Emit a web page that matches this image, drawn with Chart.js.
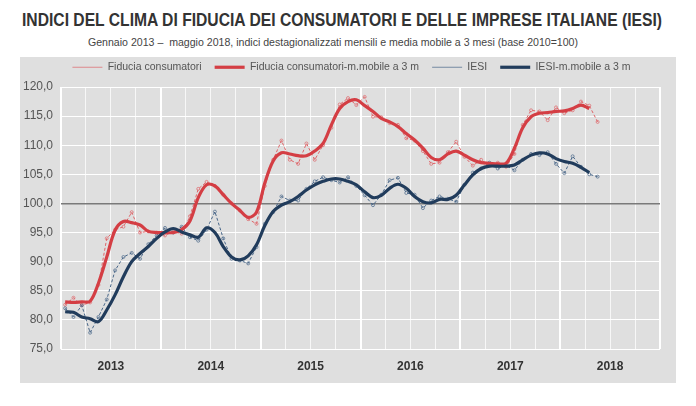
<!DOCTYPE html>
<html><head><meta charset="utf-8">
<script src="https://cdn.jsdelivr.net/npm/chart.js@4/dist/chart.umd.min.js"></script>
<style>
html,body{margin:0;padding:0;background:#fff;width:696px;height:406px;overflow:hidden;position:relative;}
.txt{position:absolute;white-space:nowrap;transform-origin:0 0;color:#333;font-family:"Liberation Sans",Arial,sans-serif;}
#title{left:22px;top:10px;font-size:18px;font-weight:bold;}
#sub{left:88px;top:36px;font-size:11.5px;color:#444;}
#panel{position:absolute;left:20px;top:57px;width:656px;height:326px;background:#dfdfdf;}
#c{position:absolute;left:0;top:0;}
</style></head>
<body>
<span id="title" class="txt">INDICI DEL CLIMA DI FIDUCIA DEI CONSUMATORI E DELLE IMPRESE ITALIANE (IESI)</span>
<span id="sub" class="txt">Gennaio 2013 –&nbsp; maggio 2018, indici destagionalizzati mensili e media mobile a 3 mesi (base 2010=100)</span>
<div id="panel"><canvas id="c" width="656" height="326"></canvas></div>
<script>
// ---- data (monthly, Jan 2013 – May 2018) ----
const years = ['2013','2014','2015','2016','2017','2018'];
const yTicks = [75,80,85,90,95,100,105,110,115,120];
const fiduciaConsumatori = [
  82.6,83.8,82.5,83.0,86.0,94.0,95.5,96.0,98.5,95.0,95.2,95.0,
  94.5,95.2,94.8,97.8,102.5,103.7,103.0,101.5,100.0,98.8,97.3,96.5,
  103.0,107.5,110.8,107.5,106.8,110.3,107.5,110.0,113.0,117.0,118.1,116.9,
  118.3,114.9,114.8,113.8,113.5,111.2,110.8,109.0,106.8,107.0,108.8,110.6,
  108.0,106.5,107.5,106.5,107.0,106.3,108.5,113.5,116.0,115.8,114.3,116.5,
  115.5,116.0,117.5,116.8,114.0];
const fiduciaConsumatoriMM3 = [
  83.1,83.0,83.1,83.2,86.3,90.8,95.4,96.9,96.7,96.3,95.2,95.0,
  95.0,95.0,95.5,97.0,101.0,103.2,103.0,101.5,100.0,98.8,97.6,98.5,
  103.5,107.3,108.7,108.5,108.2,108.2,109.0,110.3,113.5,116.3,117.5,117.8,
  116.8,115.8,114.6,114.0,113.2,112.0,110.9,109.5,107.9,107.5,108.5,109.0,
  108.3,107.5,107.0,106.9,106.8,106.9,109.5,113.0,114.9,115.5,115.6,115.8,
  115.9,116.3,116.9,116.3,null];
const iesi = [
  82.0,80.5,82.5,77.8,80.5,83.5,88.5,90.8,91.5,90.5,93.0,94.5,
  95.8,95.0,96.0,94.2,93.6,95.5,98.6,94.0,90.5,90.2,89.7,92.5,
  96.5,98.5,101.2,100.5,100.5,102.5,103.8,104.5,104.0,103.6,104.5,103.0,
  101.4,99.7,101.5,104.0,104.4,101.8,101.5,99.2,100.5,101.2,100.8,100.3,
  103.2,105.3,106.0,107.0,106.0,106.5,105.7,107.5,108.5,108.3,108.8,106.8,
  105.2,108.1,106.3,105.0,104.6];
const iesiMM3 = [
  81.4,81.3,80.5,80.2,79.7,81.7,84.3,87.4,90.0,91.4,92.6,94.0,
  95.1,95.7,95.1,94.6,94.2,95.8,95.0,92.6,90.8,90.3,91.0,92.9,
  96.2,98.6,99.7,100.3,101.2,102.3,103.2,103.8,104.2,104.2,103.8,103.2,
  102.0,101.0,101.4,102.6,103.3,102.6,101.2,100.3,100.1,100.7,100.7,101.4,
  103.2,104.9,106.0,106.4,106.4,106.4,106.6,107.5,108.3,108.7,108.5,107.7,
  107.2,106.9,106.2,105.3,null];

// fit HTML titles to reference widths
function fitW(id, w){ const el=document.getElementById(id); const r=el.getBoundingClientRect().width; el.style.transform='scaleX('+(w/r)+')'; }
fitW('title',640); fitW('sub',490);

const pts = arr => arr.map((v,i)=>({x:i+0.5,y:v}));
const FONT = '"Liberation Sans",Arial,sans-serif';
const RED='rgb(212,62,68)', RED2='rgb(222,100,104)', BLUE='rgb(33,60,92)', BLUE2='rgb(72,102,136)';

const legendFix = {
  id:'legendFix',
  beforeLayout(chart){
    const lg = chart.legend;
    if (lg && !lg._patched){ const f=lg.fit; lg.fit=function(){ f.call(this); this.height=38; }; lg._patched=true; }
  },
  afterLayout(chart){
    const lg = chart.legend;
    if (lg){ lg.left = 23; lg.right = 640; lg.width = lg.right - lg.left; }
  }
};

new Chart(document.getElementById('c'), {
  type:'line',
  data:{ datasets:[
    {label:'Fiducia consumatori', data:pts(fiduciaConsumatori), borderColor:RED2, borderWidth:1, borderDash:[3,2],
     pointRadius:1.5, pointBorderWidth:0.7, pointBorderColor:RED2, pointBackgroundColor:'rgba(0,0,0,0)', tension:0, order:4},
    {label:'Fiducia consumatori-m.mobile a 3 m', data:pts(fiduciaConsumatoriMM3), borderColor:RED, borderWidth:3.2,
     pointRadius:0, tension:0.35, order:2},
    {label:'IESI', data:pts(iesi), borderColor:BLUE2, borderWidth:1, borderDash:[3,2],
     pointRadius:1.5, pointBorderWidth:0.7, pointBorderColor:BLUE2, pointBackgroundColor:'rgba(0,0,0,0)', tension:0, order:3},
    {label:'IESI-m.mobile a 3 m', data:pts(iesiMM3), borderColor:BLUE, borderWidth:3.2,
     pointRadius:0, tension:0.35, order:1}
  ]},
  options:{
    responsive:false, animation:false, devicePixelRatio:1,
    layout:{padding:{left:0,right:16,top:-8,bottom:0}},
    plugins:{
      tooltip:{enabled:false},
      legend:{
        position:'top',
        labels:{
          usePointStyle:true, pointStyle:'line', pointStyleWidth:30, padding:13,
          color:'#555', font:{family:FONT,size:10.5},
          sort:(a,b)=>a.datasetIndex-b.datasetIndex
        }
      }
    },
    scales:{
      x:{
        type:'linear', min:0, max:72,
        afterFit(s){ s.height=34; },
        border:{display:false},
        grid:{drawTicks:false,
          color:c=> (c.tick && c.tick.value%12===0) ? '#ffffff' : 'rgba(255,255,255,0.75)',
          lineWidth:c=> (c.tick && c.tick.value%12===0) ? 2 : 1},
        ticks:{stepSize:3, autoSkip:false, maxRotation:0, padding:10,
          color:'#333', font:{family:FONT,size:12,weight:'bold'},
          callback:v=> ((v-6)%12===0 ? years[(v-6)/12] : '')}
      },
      y:{
        min:75, max:120,
        afterFit(s){ s.width=41; },
        afterBuildTicks(s){ s.ticks = yTicks.map(v=>({value:v})); },
        border:{display:false},
        grid:{drawTicks:false,
          color:c=> (c.tick && c.tick.value===100) ? '#7a7a7a' : '#ffffff',
          lineWidth:c=> (c.tick && c.tick.value===100) ? 1.5 : 1},
        ticks:{padding:8, color:'#555', font:{family:FONT,size:12},
          callback:v=> v.toFixed(1).replace('.',',')}
      }
    }
  },
  plugins:[legendFix]
});
</script>
</body></html>
